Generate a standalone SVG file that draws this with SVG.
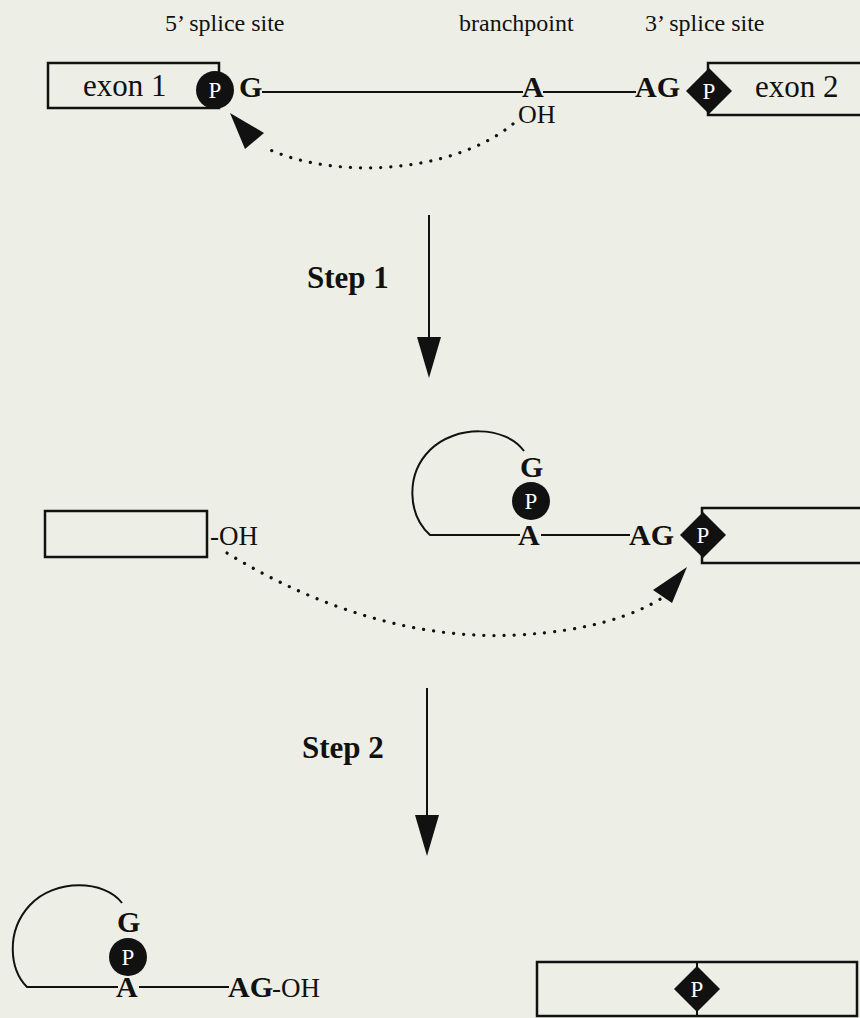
<svg xmlns="http://www.w3.org/2000/svg" width="860" height="1018" viewBox="0 0 860 1018">
  <defs>
    <style>
      .bg { fill: #edefe7; }
      .box { fill: none; stroke: #111; stroke-width: 2.5; }
      .line { fill: none; stroke: #111; stroke-width: 2; }
      .dots { fill: none; stroke: #111; stroke-width: 3.2; stroke-dasharray: 0.1 10; stroke-linecap: round; }
      .lbl { font-family: "Liberation Serif", "Times New Roman", serif; font-size: 24px; fill: #111; }
      .exon { font-family: "Liberation Serif", "Times New Roman", serif; font-size: 31px; fill: #111; }
      .nt { font-family: "Liberation Serif", "Times New Roman", serif; font-size: 30px; font-weight: bold; fill: #111; }
      .oh { font-family: "Liberation Serif", "Times New Roman", serif; font-size: 26px; fill: #111; }
      .step { font-family: "Liberation Serif", "Times New Roman", serif; font-size: 31px; font-weight: bold; fill: #111; }
      .pc { fill: #111; }
      .pt { font-family: "Liberation Serif", "Times New Roman", serif; font-size: 23px; fill: #fff; text-anchor: middle; }
      .head { fill: #111; }
    </style>
    <!-- phosphate symbols: circle and diamond -->
    <g id="pCircle">
      <circle class="pc" cx="0" cy="0" r="19"/>
      <text class="pt" x="0" y="8">P</text>
    </g>
    <g id="pDiamond">
      <polygon class="pc" points="0,-23 23,0 0,23 -23,0"/>
      <text class="pt" x="0" y="8">P</text>
    </g>
  </defs>

  <rect class="bg" x="0" y="0" width="860" height="1018"/>

  <!-- site labels -->
  <g id="labels">
    <text class="lbl" x="165" y="31">5’ splice site</text>
    <text class="lbl" x="459" y="31">branchpoint</text>
    <text class="lbl" x="645" y="31">3’ splice site</text>
  </g>

  <!-- pre-mRNA -->
  <g id="exon1">
    <rect class="box" x="48" y="63" width="171" height="45"/>
    <text class="exon" x="83" y="96">exon 1</text>
  </g>
  <g id="p5">
    <use href="#pCircle" x="215" y="90"/>
  </g>
  <g id="intron1">
    <text class="nt" x="239" y="97">G</text>
    <line class="line" x1="262" y1="92" x2="523" y2="92"/>
    <text class="nt" x="522" y="97">A</text>
    <text class="oh" x="518" y="123">OH</text>
    <line class="line" x1="543" y1="92" x2="636" y2="92"/>
    <text class="nt" x="635" y="97">AG</text>
  </g>
  <g id="exon2">
    <rect class="box" x="708" y="63" width="170" height="52"/>
    <use href="#pDiamond" x="709" y="91"/>
    <text class="exon" x="755" y="97">exon 2</text>
  </g>

  <!-- intermediate -->
  <g id="exon1b">
    <rect class="box" x="45" y="511" width="162" height="46"/>
    <text class="oh" x="210" y="545" style="font-size:27px">-OH</text>
  </g>
  <g id="lariat1">
    <path class="line" d="M524,451 C505,425 455,425 430,450 C405,475 408,515 430,535 L520,535"/>
    <text class="nt" x="520" y="477">G</text>
    <use href="#pCircle" x="531" y="501"/>
    <text class="nt" x="518" y="545">A</text>
    <line class="line" x1="541" y1="535" x2="630" y2="535"/>
    <text class="nt" x="629" y="545">AG</text>
  </g>
  <g id="exon2b">
    <rect class="box" x="702" y="508" width="176" height="55"/>
    <use href="#pDiamond" x="703" y="535"/>
  </g>

  <!-- products -->
  <g id="lariat2">
    <path class="line" d="M122,903 C105,880 55,878 30,905 C5,932 10,970 27,987 L118,987"/>
    <text class="nt" x="117" y="932">G</text>
    <use href="#pCircle" x="128" y="957"/>
    <text class="nt" x="116" y="997">A</text>
    <line class="line" x1="139" y1="987" x2="229" y2="987"/>
    <text class="nt" x="228" y="997">AG</text>
    <text class="oh" x="272" y="997" style="font-size:27px">-OH</text>
  </g>
  <g id="ligated">
    <rect class="box" x="537" y="962" width="320" height="54"/>
    <line class="line" x1="697" y1="962" x2="697" y2="1016"/>
    <use href="#pDiamond" x="697" y="989"/>
  </g>

  <!-- steps -->
  <g id="step1">
    <text class="step" x="307" y="288">Step 1</text>
  </g>
  <g id="step2">
    <text class="step" x="302" y="758">Step 2</text>
  </g>

  <!-- connectors -->
  <g id="connectors">
    <line class="line" x1="429" y1="215" x2="429" y2="340"/>
    <polygon class="head" points="417,337 441,337 429,378"/>
    <line class="line" x1="427" y1="688" x2="427" y2="818"/>
    <polygon class="head" points="415,815 439,815 427,856"/>

    <path class="dots" d="M513,124 C450,175 330,180 264,147"/>
    <polygon class="head" points="230,113 245,149 264,133"/>

    <path class="dots" d="M227,553 C320,610 420,640 517,635 C590,631 635,615 662,598"/>
    <polygon class="head" points="687,567 653,590 672,603"/>
  </g>
</svg>
